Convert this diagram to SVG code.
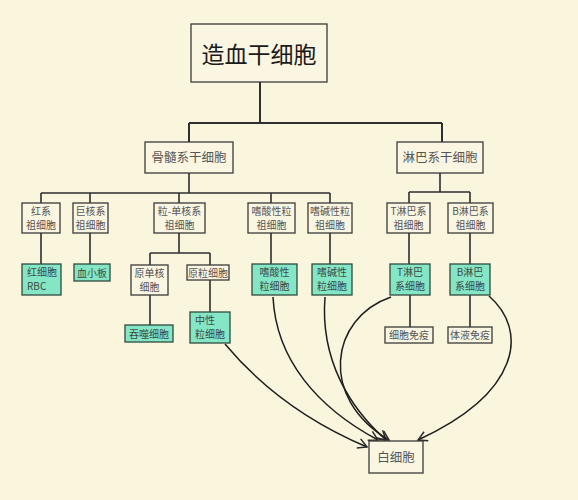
<svg xmlns="http://www.w3.org/2000/svg" width="578" height="500" viewBox="0 0 578 500">
<defs>
<marker id="arr" markerWidth="12" markerHeight="12" refX="10" refY="6" orient="auto" markerUnits="userSpaceOnUse">
<path d="M1,1 L10,6 L1,11" fill="none" stroke="#2a2a2a" stroke-width="1.5"/>
</marker>
<style>
.bx{fill:#fbf6e2;stroke:#3a3a3a;stroke-width:1.3}
.gb{fill:#84e6c4;stroke:#2e4a40;stroke-width:1.3}
.ln{fill:none;stroke:#2e2e2e;stroke-width:1.6}
.cv{fill:none;stroke:#1e1e1e;stroke-width:1.5}
text{font-family:"Noto Sans CJK SC","Noto Sans",sans-serif;fill:#555}
.s{font-size:10px;text-anchor:middle}
.sl{font-size:10px}
.m{font-size:12.5px;text-anchor:middle}
.g{fill:#3d4a45}
</style>
</defs>
<rect width="578" height="500" fill="#faf5dd"/>
<g id="connectors">
<path class="ln" d="M260,82 V123 M189,123 H442 M189,123 V142 M442,123 V142" style="stroke-width:2"/>
<path class="ln" d="M189,173 V193 M41,193 H330 M41,193 V203 M90,193 V203 M179,193 V203 M271,193 V203 M330,193 V203"/>
<path class="ln" d="M440,173 V192 M409,192 H470 M409,192 V203 M470,192 V203"/>
<path class="ln" d="M41,233 V264 M90,233 V264 M271,233 V264 M330,233 V264 M409,233 V264 M470,233 V264"/>
<path class="ln" d="M179,233 V253 M150,253 H210 M150,253 V265 M210,253 V265 M150,295 V325 M210,280 V312"/>
<path class="ln" d="M410,295 V327 M470,295 V327"/>
<path class="cv" marker-end="url(#arr)" d="M225,344 C265,392 315,425 367,447"/>
<path class="cv" marker-end="url(#arr)" d="M273,297 C276,360 318,408 378,440"/>
<path class="cv" marker-end="url(#arr)" d="M325,297 C320,360 350,408 386,440"/>
<path class="cv" marker-end="url(#arr)" d="M391,297 C330,318 318,398 389,440"/>
<path class="cv" marker-end="url(#arr)" d="M489,296 C528,330 522,392 418,440"/>
</g>
<g id="hsc"><rect class="bx" x="191" y="24" width="136" height="58"/><text x="259" y="63" style="font-size:23px;text-anchor:middle;fill:#1a1a1a">造血干细胞</text></g>
<g id="myeloid-stem"><rect class="bx" x="145" y="142" width="88" height="31"/><text class="m" x="189" y="162">骨髓系干细胞</text></g>
<g id="lymphoid-stem"><rect class="bx" x="397" y="142" width="86" height="31"/><text class="m" x="440" y="162">淋巴系干细胞</text></g>
<g id="erythroid-prog"><rect class="bx" x="22" y="203" width="38" height="30"/><text class="s" x="41" y="215">红系</text><text class="s" x="41" y="229">祖细胞</text></g>
<g id="mega-prog"><rect class="bx" x="73" y="203" width="35" height="30"/><text class="s" x="90.5" y="215">巨核系</text><text class="s" x="90.5" y="229">祖细胞</text></g>
<g id="gm-prog"><rect class="bx" x="154" y="203" width="51" height="30"/><text class="s" x="179.5" y="215">粒-单核系</text><text class="s" x="179.5" y="229">祖细胞</text></g>
<g id="eos-prog"><rect class="bx" x="248" y="203" width="47" height="30"/><text class="s" x="271.5" y="215">嗜酸性粒</text><text class="s" x="271.5" y="229">祖细胞</text></g>
<g id="baso-prog"><rect class="bx" x="308" y="203" width="44" height="30"/><text class="s" x="330" y="215">嗜碱性粒</text><text class="s" x="330" y="229">祖细胞</text></g>
<g id="t-prog"><rect class="bx" x="387" y="203" width="43" height="30"/><text class="s" x="408.5" y="215">T淋巴系</text><text class="s" x="408.5" y="229">祖细胞</text></g>
<g id="b-prog"><rect class="bx" x="448" y="203" width="45" height="30"/><text class="s" x="470.5" y="215">B淋巴系</text><text class="s" x="470.5" y="229">祖细胞</text></g>
<g id="rbc"><rect class="gb" x="22" y="264" width="39" height="31"/><text class="sl g" x="27" y="276">红细胞</text><text class="sl g" x="27" y="290">RBC</text></g>
<g id="platelet"><rect class="gb" x="74" y="264" width="36" height="17"/><text class="s g" x="92" y="276.5">血小板</text></g>
<g id="monoblast"><rect class="bx" x="131" y="265" width="37" height="30"/><text class="s" x="149.5" y="277">原单核</text><text class="s" x="149.5" y="291">细胞</text></g>
<g id="myeloblast"><rect class="bx" x="187" y="265" width="42" height="15"/><text class="s" x="208" y="276.5">原粒细胞</text></g>
<g id="eosinophil"><rect class="gb" x="252" y="264" width="45" height="31"/><text class="s g" x="274.5" y="276">嗜酸性</text><text class="s g" x="274.5" y="290">粒细胞</text></g>
<g id="basophil"><rect class="gb" x="312" y="264" width="40" height="31"/><text class="s g" x="332" y="276">嗜碱性</text><text class="s g" x="332" y="290">粒细胞</text></g>
<g id="t-cell"><rect class="gb" x="390" y="264" width="40" height="31"/><text class="s g" x="410" y="276">T淋巴</text><text class="s g" x="410" y="290">系细胞</text></g>
<g id="b-cell"><rect class="gb" x="450" y="264" width="40" height="31"/><text class="s g" x="470" y="276">B淋巴</text><text class="s g" x="470" y="290">系细胞</text></g>
<g id="phagocyte"><rect class="gb" x="125" y="325" width="48" height="17"/><text class="s g" x="149" y="337.5">吞噬细胞</text></g>
<g id="neutrophil"><rect class="gb" x="190" y="312" width="40" height="31"/><text class="sl g" x="195" y="324">中性</text><text class="sl g" x="195" y="338">粒细胞</text></g>
<g id="cell-immunity"><rect class="bx" x="385" y="327" width="48" height="16"/><text class="s" x="409" y="339">细胞免疫</text></g>
<g id="humoral-immunity"><rect class="bx" x="448" y="327" width="44" height="16"/><text class="s" x="470" y="339">体液免疫</text></g>
<g id="wbc"><rect class="bx" x="369" y="441" width="54" height="32"/><text class="m" x="396" y="461.5">白细胞</text></g>
</svg>
